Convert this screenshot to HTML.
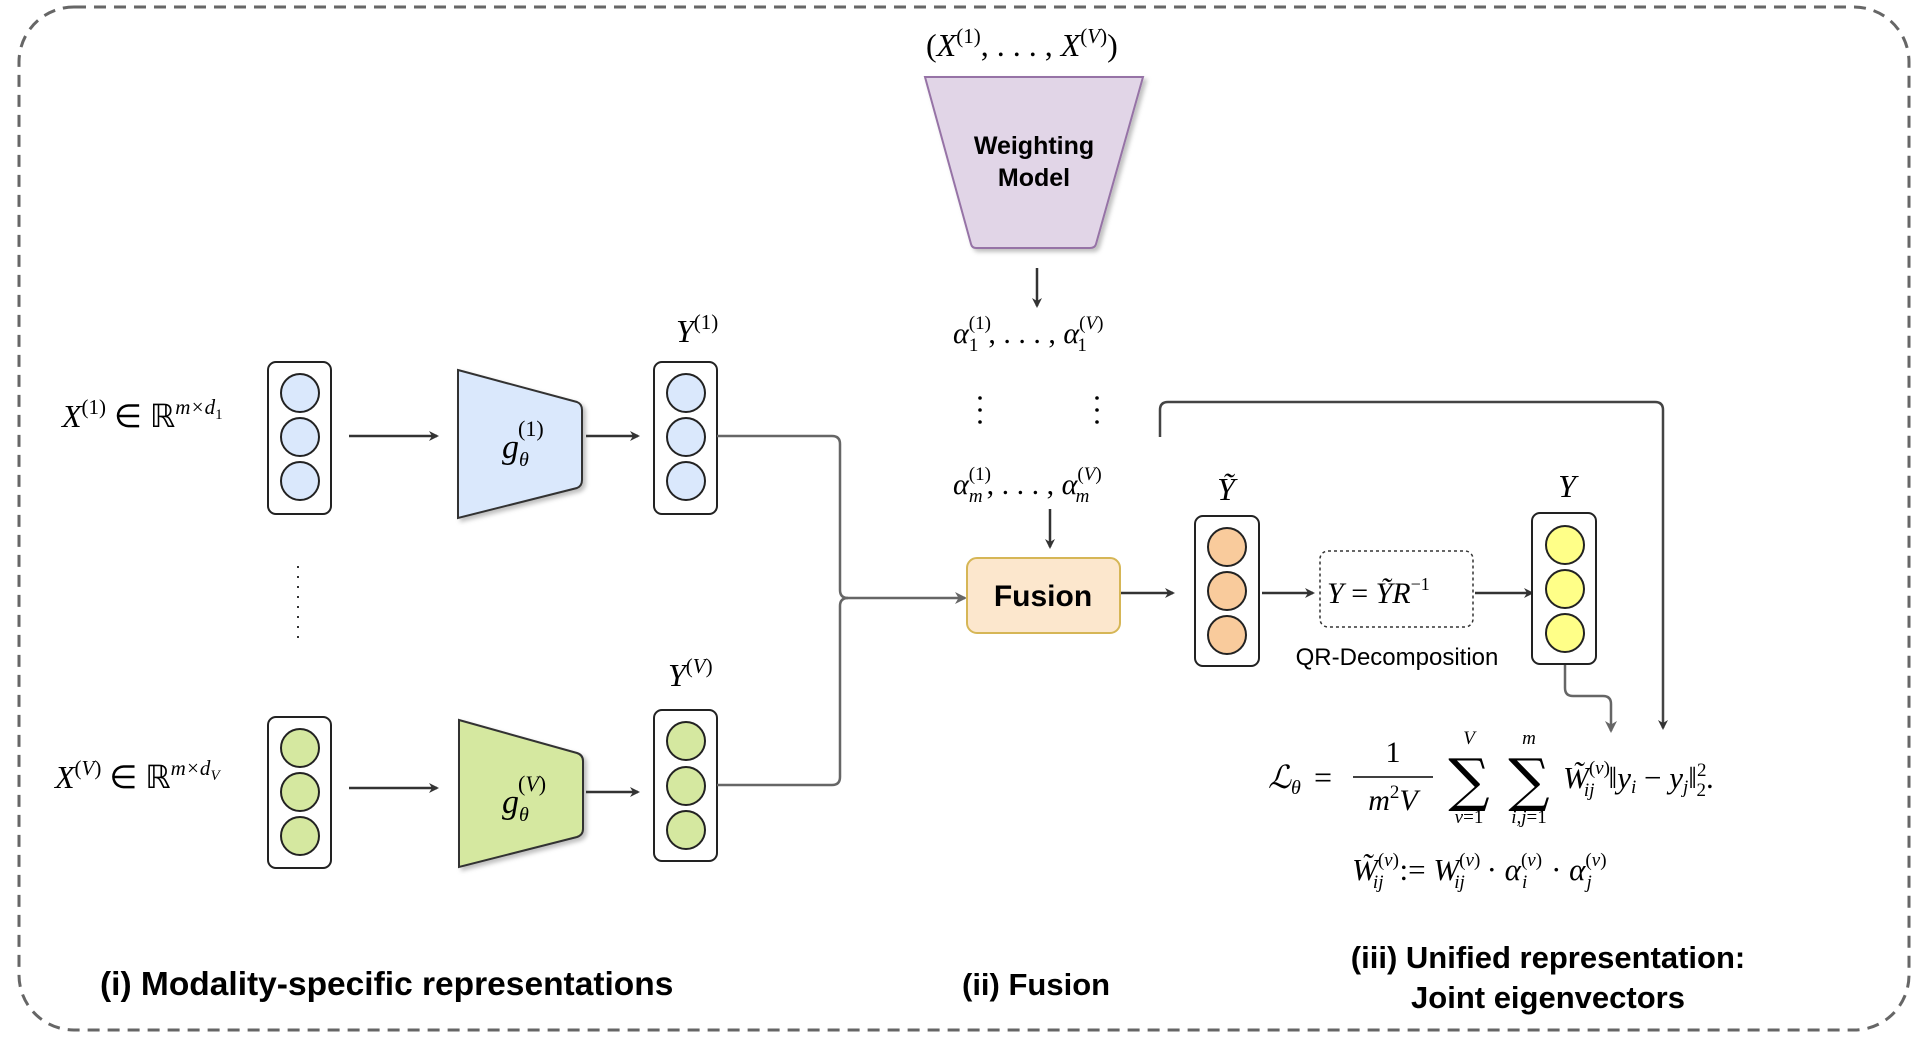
<!DOCTYPE html>
<html><head><meta charset="utf-8"><style>
html,body{margin:0;padding:0;background:#fff;}
svg{display:block}
.m{font-family:"Liberation Serif",serif;font-style:italic;fill:#000}
.r{font-family:"Liberation Serif",serif;font-style:normal;fill:#000}
.b{font-family:"Liberation Sans",sans-serif;font-weight:bold;fill:#000}
.s{font-family:"DejaVu Serif",serif;font-style:normal;fill:#000}
</style></head><body>
<svg width="1930" height="1038" viewBox="0 0 1930 1038" xmlns="http://www.w3.org/2000/svg">
<defs>
<marker id="a" markerWidth="10" markerHeight="10" refX="8" refY="5" orient="auto" markerUnits="userSpaceOnUse"><path d="M0,0 L10,5 L0,10 L3,5 z" fill="#333"/></marker>
<marker id="g" markerWidth="12" markerHeight="12" refX="10" refY="6" orient="auto" markerUnits="userSpaceOnUse"><path d="M0,0 L12,6 L0,12 L3.5,6 z" fill="#666"/></marker>
<filter id="sh" x="-10%" y="-10%" width="130%" height="130%"><feDropShadow dx="3" dy="3" stdDeviation="2" flood-color="#000" flood-opacity="0.25"/></filter>
</defs>
<rect x="19" y="7" width="1890" height="1023" rx="55" fill="none" stroke="#666" stroke-width="3" stroke-dasharray="12,8"/>

<g stroke="#222" stroke-width="2">
<rect x="268" y="362" width="63" height="152" rx="8" fill="#fff"/>
<circle cx="300" cy="393" r="19" fill="#dae8fc"/><circle cx="300" cy="437" r="19" fill="#dae8fc"/><circle cx="300" cy="481" r="19" fill="#dae8fc"/>
<rect x="268" y="717" width="63" height="151" rx="8" fill="#fff"/>
<circle cx="300" cy="748" r="19" fill="#d5e8a0"/><circle cx="300" cy="792" r="19" fill="#d5e8a0"/><circle cx="300" cy="836" r="19" fill="#d5e8a0"/>
<rect x="654" y="362" width="63" height="152" rx="8" fill="#fff"/>
<circle cx="686" cy="393" r="19" fill="#dae8fc"/><circle cx="686" cy="437" r="19" fill="#dae8fc"/><circle cx="686" cy="481" r="19" fill="#dae8fc"/>
<rect x="654" y="710" width="63" height="151" rx="8" fill="#fff"/>
<circle cx="686" cy="741" r="19" fill="#d5e8a0"/><circle cx="686" cy="786" r="19" fill="#d5e8a0"/><circle cx="686" cy="830" r="19" fill="#d5e8a0"/>
</g>
<line x1="298" y1="566" x2="298" y2="640" stroke="#333" stroke-width="2" stroke-dasharray="2,8"/>

<path d="M458,370 L577,402 Q582,404 582,410 L582,480 Q582,486 577,488 L458,518 Z" fill="#dae8fc" stroke="#333" stroke-width="2" filter="url(#sh)"/>
<path d="M459,720 L577,753 Q583,755 583,761 L583,829 Q583,835 577,837 L459,867 Z" fill="#d5e8a0" stroke="#333" stroke-width="2" filter="url(#sh)"/>
<path d="M925,77 L1143,77 L1096,244 Q1095,248 1090,248 L976,248 Q972,248 971,244 Z" fill="#e1d5e7" stroke="#9673a6" stroke-width="2" filter="url(#sh)"/>

<g stroke="#333" stroke-width="2.5" fill="none" marker-end="url(#a)">
<line x1="349" y1="436" x2="437" y2="436"/>
<line x1="586" y1="436" x2="638" y2="436"/>
<line x1="349" y1="788" x2="437" y2="788"/>
<line x1="586" y1="792" x2="638" y2="792"/>
<line x1="1037" y1="268" x2="1037" y2="306"/>
<line x1="1050" y1="509" x2="1050" y2="547"/>
<line x1="1120" y1="593" x2="1173" y2="593"/>
<line x1="1262" y1="593" x2="1313" y2="593"/>
<line x1="1475" y1="593" x2="1532" y2="593"/>
</g>
<g stroke="#666" stroke-width="2.5" fill="none">
<path d="M717,436 L832,436 Q840,436 840,444 L840,590 Q840,598 848,598 L965,598" marker-end="url(#g)"/>
<path d="M717,785 L832,785 Q840,785 840,777 L840,606 Q840,598 848,598"/>
<path d="M1565,664 L1565,688 Q1565,696 1573,696 L1603,696 Q1611,696 1611,704 L1611,731" marker-end="url(#g)"/>
</g>
<path d="M1160,437 L1160,410 Q1160,402 1168,402 L1655,402 Q1663,402 1663,410 L1663,728" stroke="#444" stroke-width="2.5" fill="none" marker-end="url(#a)"/>

<rect x="967" y="558" width="153" height="75" rx="10" fill="#fce7cd" stroke="#d6b656" stroke-width="2"/>
<text x="1043" y="606" text-anchor="middle" class="b" font-size="30">Fusion</text>
<text x="1034" y="154" text-anchor="middle" class="b" font-size="25">Weighting</text>
<text x="1034" y="186" text-anchor="middle" class="b" font-size="25">Model</text>

<g stroke="#222" stroke-width="2">
<rect x="1195" y="516" width="64" height="150" rx="8" fill="#fff"/>
<circle cx="1227" cy="547" r="19" fill="#f9cb9c"/><circle cx="1227" cy="591" r="19" fill="#f9cb9c"/><circle cx="1227" cy="635" r="19" fill="#f9cb9c"/>
<rect x="1532" y="513" width="64" height="151" rx="8" fill="#fff"/>
<circle cx="1565" cy="545" r="19" fill="#ffff88"/><circle cx="1565" cy="589" r="19" fill="#ffff88"/><circle cx="1565" cy="633" r="19" fill="#ffff88"/>
</g>
<rect x="1320" y="551" width="153" height="76" rx="8" fill="#fff" stroke="#333" stroke-width="1.5" stroke-dasharray="3,3"/>
<text x="1327" y="603" class="m" font-size="30">Y <tspan class="r">=</tspan> ỸR<tspan font-size="18" dy="-13" class="r">−1</tspan></text>
<text x="1397" y="665" text-anchor="middle" font-family="Liberation Sans,sans-serif" font-size="24">QR-Decomposition</text>

<text x="62" y="427" class="m" font-size="32">X<tspan class="r" font-size="21" dy="-13">(1)</tspan><tspan class="r" dy="13"> ∈ ℝ</tspan><tspan font-size="21" dy="-13">m×d</tspan><tspan font-size="15" dy="5" class="r">1</tspan></text>
<text x="55" y="788" class="m" font-size="32">X<tspan class="r" font-size="21" dy="-13">(</tspan><tspan font-size="21">V</tspan><tspan class="r" font-size="21">)</tspan><tspan class="r" dy="13"> ∈ ℝ</tspan><tspan font-size="21" dy="-13">m×d</tspan><tspan font-size="15" dy="5">V</tspan></text>
<text x="676" y="342" class="m" font-size="32">Y<tspan class="r" font-size="21" dy="-13">(1)</tspan></text>
<text x="668" y="686" class="m" font-size="32">Y<tspan class="r" font-size="21" dy="-13">(</tspan><tspan font-size="21">V</tspan><tspan class="r" font-size="21">)</tspan></text>
<text x="502" y="458" class="m" font-size="34">g<tspan font-size="20" dy="8">θ</tspan></text>
<text x="518" y="436" class="r" font-size="22">(1)</text>
<text x="502" y="813" class="m" font-size="34">g<tspan font-size="20" dy="8">θ</tspan></text>
<text x="518" y="791" class="r" font-size="22">(<tspan class="m">V</tspan>)</text>
<text x="926" y="56" class="r" font-size="32">(<tspan class="m">X</tspan><tspan font-size="21" dy="-13">(1)</tspan><tspan dy="13">, . . . , </tspan><tspan class="m">X</tspan><tspan font-size="21" dy="-13">(</tspan><tspan class="m" font-size="21">V</tspan><tspan font-size="21">)</tspan><tspan dy="13">)</tspan></text>
<text x="953" y="343" class="m" font-size="30">α<tspan class="r" font-size="19" dy="-14">(1)</tspan><tspan class="r" font-size="19" dx="-22" dy="22">1</tspan><tspan class="r" dx="10" dy="-8">, . . . , </tspan>α<tspan class="r" font-size="19" dy="-14">(</tspan><tspan font-size="19">V</tspan><tspan class="r" font-size="19">)</tspan><tspan class="r" font-size="19" dx="-26" dy="22">1</tspan></text>
<text x="953" y="494" class="m" font-size="30">α<tspan class="r" font-size="19" dy="-14">(1)</tspan><tspan font-size="19" dx="-22" dy="22">m</tspan><tspan class="r" dx="4" dy="-8">, . . . , </tspan>α<tspan class="r" font-size="19" dy="-14">(</tspan><tspan font-size="19">V</tspan><tspan class="r" font-size="19">)</tspan><tspan font-size="19" dx="-26" dy="22">m</tspan></text>
<g fill="#000"><circle cx="980" cy="398" r="1.8"/><circle cx="980" cy="410" r="1.8"/><circle cx="980" cy="422" r="1.8"/>
<circle cx="1097" cy="398" r="1.8"/><circle cx="1097" cy="410" r="1.8"/><circle cx="1097" cy="422" r="1.8"/></g>
<text x="1226" y="500" text-anchor="middle" class="m" font-size="32">Ỹ</text>
<text x="1567" y="497" text-anchor="middle" class="m" font-size="32">Y</text>

<text x="1268" y="788" class="m" font-size="32">ℒ<tspan font-size="20" dy="6">θ</tspan></text>
<text x="1314" y="788" class="r" font-size="32">=</text>
<text x="1393" y="762" text-anchor="middle" class="r" font-size="30">1</text>
<line x1="1353" y1="777" x2="1433" y2="777" stroke="#000" stroke-width="1.5"/>
<text x="1393" y="810" text-anchor="middle" class="m" font-size="30">m<tspan class="r" font-size="19" dy="-12">2</tspan><tspan dy="12">V</tspan></text>
<text x="1469" y="800" text-anchor="middle" class="s" font-size="58">∑</text>
<text x="1469" y="744" text-anchor="middle" class="m" font-size="19">V</text>
<text x="1469" y="823" text-anchor="middle" class="m" font-size="19">v<tspan class="r">=1</tspan></text>
<text x="1529" y="800" text-anchor="middle" class="s" font-size="58">∑</text>
<text x="1529" y="744" text-anchor="middle" class="m" font-size="19">m</text>
<text x="1529" y="823" text-anchor="middle" class="m" font-size="19">i,j<tspan class="r">=1</tspan></text>
<text x="1563" y="788" class="m" font-size="31">W̃<tspan class="r" font-size="19" dy="-14">(</tspan><tspan font-size="19">v</tspan><tspan class="r" font-size="19">)</tspan><tspan font-size="19" dx="-26" dy="22">ij</tspan><tspan class="r" dx="14" dy="-8">‖</tspan>y<tspan font-size="19" dy="5">i</tspan><tspan class="r" dy="-5"> − </tspan>y<tspan font-size="19" dy="5">j</tspan><tspan class="r" dy="-5">‖</tspan><tspan class="r" font-size="19" dy="-12">2</tspan><tspan class="r" font-size="19" dx="-10" dy="20">2</tspan><tspan class="r" dy="-8">.</tspan></text>
<text x="1352" y="880" class="m" font-size="31">W̃<tspan class="r" font-size="19" dy="-14">(</tspan><tspan font-size="19">v</tspan><tspan class="r" font-size="19">)</tspan><tspan font-size="19" dx="-26" dy="22">ij</tspan><tspan class="r" dx="16" dy="-8">:= </tspan>W<tspan class="r" font-size="19" dy="-14">(</tspan><tspan font-size="19">v</tspan><tspan class="r" font-size="19">)</tspan><tspan font-size="19" dx="-26" dy="22">ij</tspan><tspan class="r" dx="14" dy="-8"> · </tspan>α<tspan class="r" font-size="19" dy="-14">(</tspan><tspan font-size="19">v</tspan><tspan class="r" font-size="19">)</tspan><tspan font-size="19" dx="-20" dy="22">i</tspan><tspan class="r" dx="16" dy="-8"> · </tspan>α<tspan class="r" font-size="19" dy="-14">(</tspan><tspan font-size="19">v</tspan><tspan class="r" font-size="19">)</tspan><tspan font-size="19" dx="-20" dy="22">j</tspan></text>

<text x="100" y="995" class="b" font-size="33.5">(i) Modality-specific representations</text>
<text x="962" y="995" class="b" font-size="31">(ii) Fusion</text>
<text x="1548" y="968" text-anchor="middle" class="b" font-size="31">(iii) Unified representation:</text>
<text x="1548" y="1008" text-anchor="middle" class="b" font-size="31">Joint eigenvectors</text>
</svg>
</body></html>
